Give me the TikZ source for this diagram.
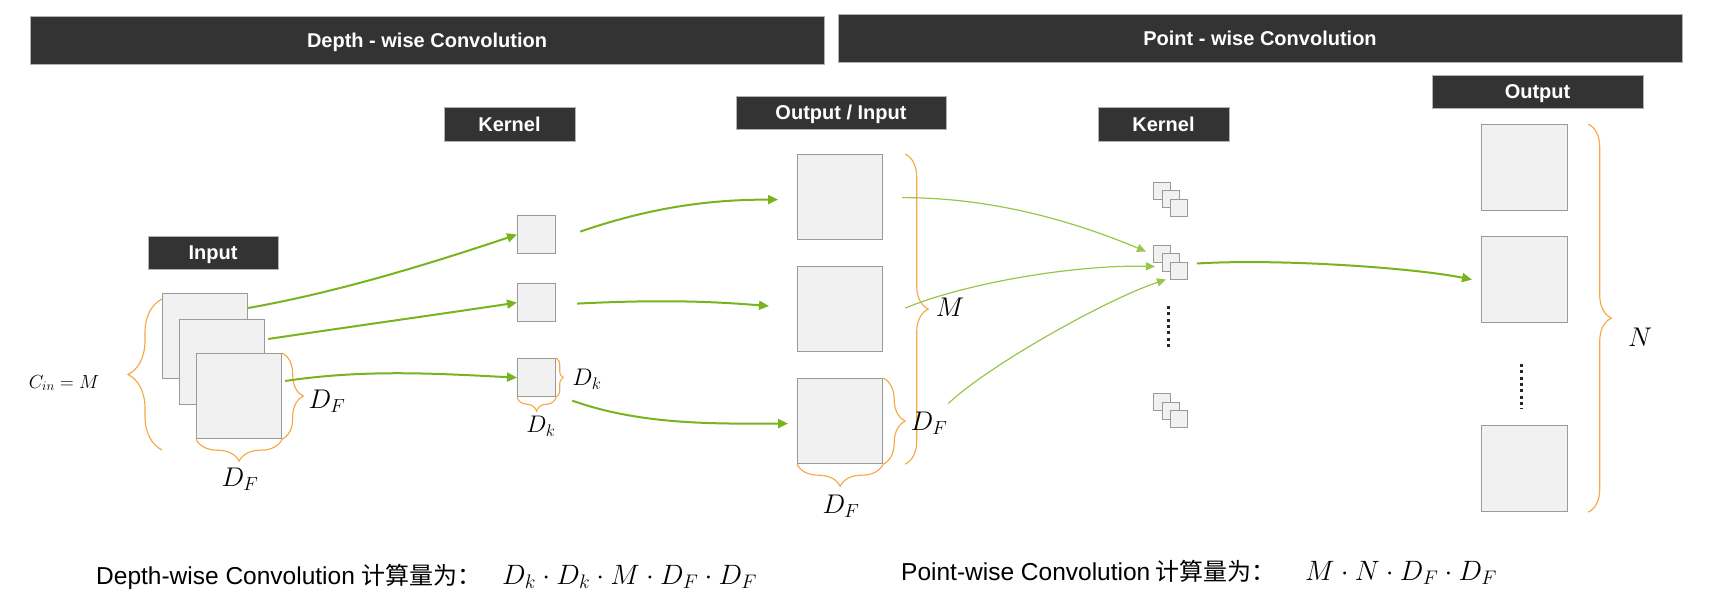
\RequirePackage{fix-cm}
\documentclass[tikz,border=0pt]{standalone}
\usepackage[no-math]{fontspec}
\setmainfont{Liberation Sans}
\newfontfamily\cjk{Noto Sans CJK SC}
\usetikzlibrary{arrows.meta,decorations.pathreplacing,calc}
\definecolor{bar}{HTML}{333333}
\definecolor{sq}{HTML}{F1F1F1}
\definecolor{sqb}{HTML}{9A9A9A}
\definecolor{grn}{HTML}{78B41E}
\definecolor{lgrn}{HTML}{98C64A}
\definecolor{org}{HTML}{F7A845}
\begin{document}
\begin{tikzpicture}[x=1pt,y=-1pt,
  sqr/.style={draw=sqb,fill=sq,line width=1.2pt,inner sep=0,anchor=north west,minimum width=#1,minimum height=#1},
  lbl/.style={draw=black!30,fill=bar,text=white,line width=0.8pt,font=\fontsize{20}{24}\selectfont\bfseries,inner sep=0,text height=14.3pt,text depth=0pt},
  brc/.style={draw=org,line width=1.15pt,decorate,decoration={brace,amplitude=#1}},
  thick arrow/.style={draw=grn,line width=2pt,-{Triangle[length=10pt,width=9pt]}},
  thin arrow/.style={draw=lgrn,line width=1.2pt,-{Triangle[length=9pt,width=8pt]}},
  mlab/.style={inner sep=0},
  dotsline/.style={draw=black!85,line width=3pt,dash pattern=on 3pt off 3.3pt}
]
\useasboundingbox (0,0) rectangle (1712,612);

% headers
\node[lbl,minimum width=794,minimum height=48] (hdw) at (427,40) {Depth - wise Convolution};
\node[lbl,minimum width=844,minimum height=48] (hpw) at (1260,38) {Point - wise Convolution};

% labels
\node[lbl,minimum width=130,minimum height=33] (linput) at (213,252.5) {Input};
\node[lbl,minimum width=131,minimum height=34] (lkern1) at (509.5,124) {Kernel};
\node[lbl,minimum width=210,minimum height=33] (loi) at (841,112.5) {Output / Input};
\node[lbl,minimum width=131,minimum height=34] (lkern2) at (1163.5,124) {Kernel};
\node[lbl,minimum width=211,minimum height=33] (lout) at (1537.5,91.5) {Output};

% input squares
\node[sqr=85] (in1) at (162,293) {};
\node[sqr=85] (in2) at (179,319) {};
\node[sqr=85] (in3) at (196,353) {};

% kernels
\node[sqr=38] (k1) at (517,215) {};
\node[sqr=38] (k2) at (517,283) {};
\node[sqr=38] (k3) at (517,358) {};

% output / input
\node[sqr=85] (o1) at (797,154) {};
\node[sqr=85] (o2) at (797,266) {};
\node[sqr=85] (o3) at (797,378) {};

% point-wise kernels
\node[sqr=17,line width=1pt] (g1a) at (1153,182) {};
\node[sqr=17,line width=1pt] (g1b) at (1161.5,190.5) {};
\node[sqr=17,line width=1pt] (g1c) at (1170,199) {};
\node[sqr=17,line width=1pt] (g2a) at (1153,245) {};
\node[sqr=17,line width=1pt] (g2b) at (1161.5,253.5) {};
\node[sqr=17,line width=1pt] (g2c) at (1170,262) {};
\node[sqr=17,line width=1pt] (g3a) at (1153,393) {};
\node[sqr=17,line width=1pt] (g3b) at (1161.5,401.5) {};
\node[sqr=17,line width=1pt] (g3c) at (1170,410) {};
\draw[dotsline] (1168,306) -- (1168,349);

% outputs
\node[sqr=86] (out1) at (1481,124) {};
\node[sqr=86] (out2) at (1481,236) {};
\node[sqr=86] (out3) at (1481,425) {};
\draw[dotsline] (1521,364) -- (1521,409);

% braces
\draw[brc=34] (162,450) -- (162,299);
\draw[brc=21] (in3.north east) -- (in3.south east);
\draw[brc=22] (in3.south east) -- (in3.south west);
\draw[brc=7] (k3.north east) -- (k3.south east);
\draw[brc=14] (k3.south east) -- (k3.south west);
\draw[brc=23] ($(o1.north east)+(22,0)$) -- ($(o3.south east)+(22,0)$);
\draw[brc=22] (o3.north east) -- (o3.south east);
\draw[brc=22] (o3.south east) -- (o3.south west);
\draw[brc=23] ($(out1.north east)+(20,0)$) -- ($(out3.south east)+(20,0)$);

% math labels
\node[mlab] (cin) at (64,383) {\fontsize{19}{22}\selectfont $C_{in}=M$};
\node[mlab] (dfin1) at (327,401) {\fontsize{27}{30}\selectfont $D_F$};
\node[mlab] (dfin2) at (240,479) {\fontsize{27}{30}\selectfont $D_F$};
\node[mlab] (dk1) at (587,379) {\fontsize{24}{28}\selectfont $D_k$};
\node[mlab] (dk2) at (541,426) {\fontsize{24}{28}\selectfont $D_k$};
\node[mlab] (mm) at (950,307) {\fontsize{27}{30}\selectfont $M$};
\node[mlab] (dfo1) at (929,423) {\fontsize{27}{30}\selectfont $D_F$};
\node[mlab] (dfo2) at (841,506) {\fontsize{27}{30}\selectfont $D_F$};
\node[mlab] (nn) at (1640,337) {\fontsize{27}{30}\selectfont $N$};

% depth-wise arrows
\draw[thick arrow] ($(in1.north east)+(0,15)$) .. controls +(90,-16) and +(-90,30) .. (k1.west);
\draw[thick arrow] ($(in2.north east)+(3,20)$) .. controls +(80,-12) and +(-80,12) .. (k2.west);
\draw[thick arrow] ($(in3.north east)+(3,28)$) .. controls +(80,-12) and +(-80,-4) .. (k3.west);
\draw[thick arrow] ($(k1.east)+(24,-3)$) .. controls +(70,-24) and +(-70,0) .. ($(o1.west)+(-19,2.5)$);
\draw[thick arrow] ($(k2.east)+(21,1)$) .. controls +(80,-4) and +(-60,-5) .. ($(o2.west)+(-28,-3)$);
\draw[thick arrow] ($(k3.east)+(16,23)$) .. controls +(70,25) and +(-70,0) .. ($(o3.west)+(-9,2.5)$);

% point-wise arrows
\draw[thin arrow] ($(o1.east)+(19,0.5)$) .. controls +(100,0) and +(-60,-25) .. ($(g2a.west)+(-7,-2.5)$);
\draw[thin arrow] ($(o2.east)+(22,-1)$) .. controls +(60,-25) and +(-80,-2) .. ($(g2b.west)+(-6.5,4)$);
\draw[thin arrow] ($(o3.east)+(65,-17.5)$) .. controls +(40,-38) and +(-60,20) .. ($(g2c.west)+(-4,8.5)$);
\draw[thick arrow] ($(g2c.east)+(9,-7.5)$) .. controls +(80,-5) and +(-60,-12) .. ($(out2.west)+(-9,0)$);

% bottom formulas
\node[anchor=base west,inner sep=0] (dwt) at (96,584) {\fontsize{24.5}{28}\selectfont Depth-wise Convolution};
\node[anchor=base west,inner sep=0] (dwc) at (361,584) {\cjk\fontsize{24}{28}\selectfont 计算量为：};
\node[anchor=base west,inner sep=0] (dwf) at (502,584) {\fontsize{28}{32}\selectfont $D_k\cdot D_k\cdot M\cdot D_F\cdot D_F$};
\node[anchor=base west,inner sep=0] (pwt) at (901,580) {\fontsize{24.5}{28}\selectfont Point-wise Convolution};
\node[anchor=base west,inner sep=0] (pwc) at (1155,580) {\cjk\fontsize{24}{28}\selectfont 计算量为：};
\node[anchor=base west,inner sep=0] (pwf) at (1305,580) {\fontsize{28}{32}\selectfont $M\cdot N\cdot D_F\cdot D_F$};
\end{tikzpicture}
\end{document}
